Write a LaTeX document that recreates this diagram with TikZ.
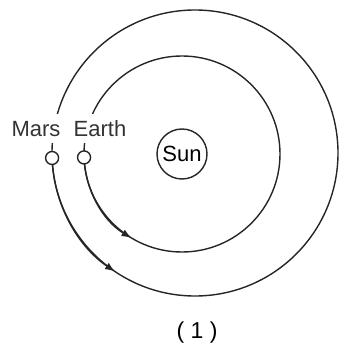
\documentclass[tikz,border=0pt]{standalone}
\usepackage{fontspec}
\setmainfont{Liberation Sans}
\usetikzlibrary{arrows.meta}
\begin{document}
\begin{tikzpicture}[x=1pt,y=1pt,
  orbit/.style={line width=1.4pt,black!85},
  arrowarc/.style={orbit,-{Latex[length=10pt,width=7.5pt]}},
  planet/.style={circle,draw=black!85,line width=1.4pt,fill=white,minimum size=13pt,inner sep=0pt},
  sunbody/.style={circle,draw=black!85,line width=1.4pt,minimum size=50pt,inner sep=0pt,font=\fontsize{22}{25}\selectfont},
  lbl/.style={fill=white,inner xsep=1.5pt,inner ysep=6.5pt,text height=16pt,text depth=0pt,anchor=base,font=\fontsize{22}{25}\selectfont,text=black!80},
  capt/.style={font=\fontsize{23}{27}\selectfont}]
\useasboundingbox (0,0) rectangle (341,354);
\coordinate (oc) at (195,201);
\coordinate (ic) at (182,200);
% orbits
\draw[orbit] (oc) circle[radius=143];
\draw[orbit] (ic) circle[radius=98];
\draw[arrowarc] ([shift={(182:143)}]oc) arc[start angle=182,end angle=236,radius=143];
\draw[arrowarc] ([shift={(182:98)}]ic) arc[start angle=182,end angle=239,radius=98];
% sun
\node[sunbody] (sun) at (ic) {Sun};
% labels
\node[lbl] (marsl) at (36,217) {Mars};
\node[lbl] (earthl) at (100,217) {Earth};
% planets
\node[planet] (mars) at ([shift={(182:143)}]oc) {};
\node[planet] (earth) at ([shift={(182:98)}]ic) {};
% caption
\node[capt] (cap) at (197,21) {(\ 1\ )};
\end{tikzpicture}
\end{document}
